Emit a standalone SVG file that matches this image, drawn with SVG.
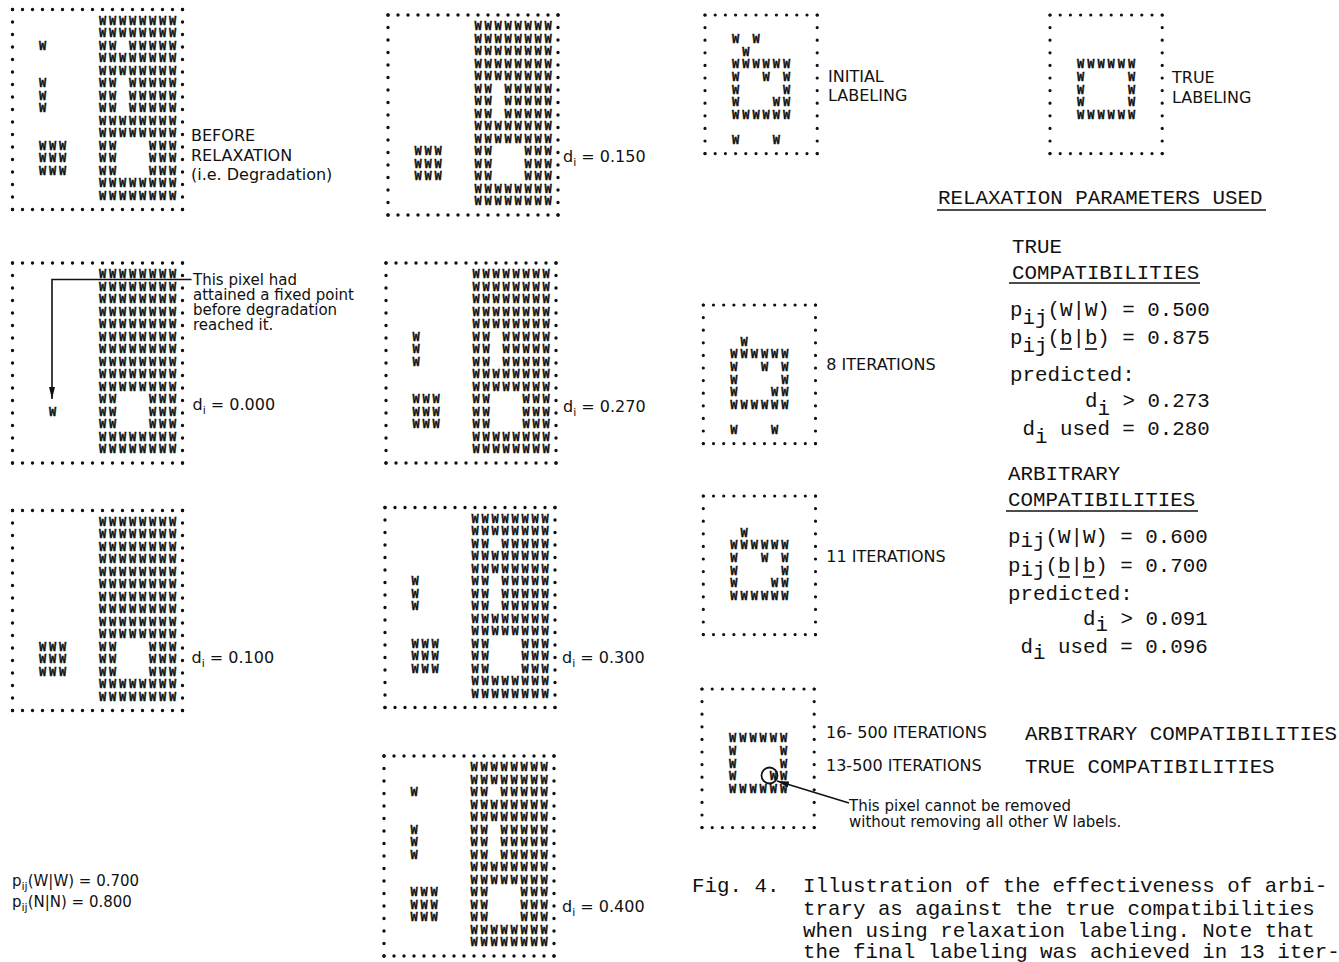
<svg xmlns="http://www.w3.org/2000/svg" width="1339" height="962" viewBox="0 0 1339 962">
<style>
.w{font-family:"DejaVu Sans Mono",monospace;font-weight:bold;font-size:12px;letter-spacing:2.78px;fill:#111;stroke:#111;stroke-width:0.3}
.w2{font-family:"DejaVu Sans Mono",monospace;font-weight:bold;font-size:12px;letter-spacing:2.98px;fill:#111;stroke:#111;stroke-width:0.3}
.dh{fill:none;stroke:#111;stroke-width:3.4;stroke-linecap:round;stroke-dasharray:0 10}
.dv{fill:none;stroke:#111;stroke-width:3.4;stroke-linecap:round;stroke-dasharray:0 12.5}
.dh2{fill:none;stroke:#111;stroke-width:3.2;stroke-linecap:round;stroke-dasharray:0 10.2}
.dv2{fill:none;stroke:#111;stroke-width:3.2;stroke-linecap:round;stroke-dasharray:0 12.6}
.lt{font-family:"DejaVu Sans",sans-serif;font-size:16px;fill:#111}
.ls{font-family:"DejaVu Sans",sans-serif;font-size:15px;fill:#111}
.tw{font-family:"Liberation Mono",monospace;font-size:20.8px;fill:#111}
.ln{stroke:#111;stroke-width:1.6;fill:none}
</style>
<defs>
<marker id="ah" viewBox="0 0 12 6" refX="12" refY="3" markerWidth="12" markerHeight="6" orient="auto" markerUnits="userSpaceOnUse"><path d="M0,0 L12,3 L0,6 z" fill="#111"/></marker>
<g id="frL"><path class="dh" d="M0,0H170.5M0,200H170.5"/><path class="dv" d="M0,0V200.5M170,0V200.5"/></g>
<g id="frR"><path class="dh2" d="M0,0H112.5M0,138.6H112.5"/><path class="dv2" d="M0,0V138.9M112.2,0V138.9"/></g>
<text id="F" class="w" x="86.39" y="2.9">WWWWWWWW</text>
<text id="G1" class="w" y="2.9"><tspan x="86.39">WW</tspan><tspan x="116.39">WWWWW</tspan></text>
<text id="G3" class="w" y="2.9"><tspan x="86.39">WW</tspan><tspan x="136.39">WWW</tspan></text>
<text id="L1" class="w" x="26.39" y="2.9">W</text>
<text id="L3" class="w" x="26.39" y="2.9">WWW</text>
<text id="R6" class="w2" x="27" y="2.9">WWWWWW</text>
<text id="R38" class="w2" y="2.9"><tspan x="27">W</tspan><tspan x="77.99">W</tspan></text>
<text id="R368" class="w2" y="2.9"><tspan x="27">W</tspan><tspan x="57.59">W</tspan><tspan x="77.99">W</tspan></text>
<text id="R378" class="w2" y="2.9"><tspan x="27">W</tspan><tspan x="67.79">WW</tspan></text>
<text id="R4" class="w2" x="37.19" y="2.9">W</text>
<text id="R37" class="w2" y="2.9"><tspan x="27">W</tspan><tspan x="67.79">W</tspan></text>
<text id="R35" class="w2" y="2.9"><tspan x="27">W</tspan><tspan x="47.39">W</tspan></text>
</defs>

<g id="box-before" transform="translate(12.5,9.5)">
<use href="#frL"/>
<use href="#F" y="12.5"/><use href="#F" y="25"/>
<use href="#G1" y="37.5"/><use href="#L1" y="37.5"/>
<use href="#F" y="50"/><use href="#F" y="62.5"/>
<use href="#G1" y="75"/><use href="#L1" y="75"/>
<use href="#G1" y="87.5"/><use href="#L1" y="87.5"/>
<use href="#G1" y="100"/><use href="#L1" y="100"/>
<use href="#F" y="112.5"/><use href="#F" y="125"/>
<use href="#G3" y="137.5"/><use href="#L3" y="137.5"/>
<use href="#G3" y="150"/><use href="#L3" y="150"/>
<use href="#G3" y="162.5"/><use href="#L3" y="162.5"/>
<use href="#F" y="175"/><use href="#F" y="187.5"/>
</g>
<g id="label-before">
<text class="lt" x="191" y="141">BEFORE</text>
<text class="lt" x="191" y="161">RELAXATION</text>
<text class="lt" x="191" y="180">(i.e. Degradation)</text>
</g>

<g id="box-0150" transform="translate(388,15)">
<use href="#frL"/>
<use href="#F" y="12.5"/><use href="#F" y="25"/><use href="#F" y="37.5"/><use href="#F" y="50"/><use href="#F" y="62.5"/>
<use href="#G1" y="75"/><use href="#G1" y="87.5"/><use href="#G1" y="100"/>
<use href="#F" y="112.5"/><use href="#F" y="125"/>
<use href="#G3" y="137.5"/><use href="#L3" y="137.5"/>
<use href="#G3" y="150"/><use href="#L3" y="150"/>
<use href="#G3" y="162.5"/><use href="#L3" y="162.5"/>
<use href="#F" y="175"/><use href="#F" y="187.5"/>
<text class="lt" x="175" y="147">d<tspan font-size="11" dy="4">i</tspan><tspan dy="-4"> = 0.150</tspan></text>
</g>

<g id="box-0000" transform="translate(12.5,263)">
<use href="#frL"/>
<use href="#F" y="12.5"/><use href="#F" y="25"/><use href="#F" y="37.5"/><use href="#F" y="50"/><use href="#F" y="62.5"/>
<use href="#F" y="75"/><use href="#F" y="87.5"/><use href="#F" y="100"/><use href="#F" y="112.5"/><use href="#F" y="125"/>
<use href="#G3" y="137.5"/><use href="#G3" y="150"/><use href="#G3" y="162.5"/>
<text class="w" x="36.39" y="152.9">W</text>
<use href="#F" y="175"/><use href="#F" y="187.5"/>
<text class="lt" x="180" y="147">d<tspan font-size="11" dy="4">i</tspan><tspan dy="-4"> = 0.000</tspan></text>
</g>
<g id="note-fixed">
<text class="ls" x="193" y="285">This pixel had</text>
<text class="ls" x="193" y="300">attained a fixed point</text>
<text class="ls" x="193" y="315">before degradation</text>
<text class="ls" x="193" y="330">reached it.</text>
</g>

<g id="box-0270" transform="translate(386,263)">
<use href="#frL"/>
<use href="#F" y="12.5"/><use href="#F" y="25"/><use href="#F" y="37.5"/><use href="#F" y="50"/><use href="#F" y="62.5"/>
<use href="#G1" y="75"/><use href="#L1" y="75"/>
<use href="#G1" y="87.5"/><use href="#L1" y="87.5"/>
<use href="#G1" y="100"/><use href="#L1" y="100"/>
<use href="#F" y="112.5"/><use href="#F" y="125"/>
<use href="#G3" y="137.5"/><use href="#L3" y="137.5"/>
<use href="#G3" y="150"/><use href="#L3" y="150"/>
<use href="#G3" y="162.5"/><use href="#L3" y="162.5"/>
<use href="#F" y="175"/><use href="#F" y="187.5"/>
<text class="lt" x="177" y="149">d<tspan font-size="11" dy="4">i</tspan><tspan dy="-4"> = 0.270</tspan></text>
</g>

<g id="box-0100" transform="translate(12.5,510.5)">
<use href="#frL"/>
<use href="#F" y="12.5"/><use href="#F" y="25"/><use href="#F" y="37.5"/><use href="#F" y="50"/><use href="#F" y="62.5"/>
<use href="#F" y="75"/><use href="#F" y="87.5"/><use href="#F" y="100"/><use href="#F" y="112.5"/><use href="#F" y="125"/>
<use href="#G3" y="137.5"/><use href="#L3" y="137.5"/>
<use href="#G3" y="150"/><use href="#L3" y="150"/>
<use href="#G3" y="162.5"/><use href="#L3" y="162.5"/>
<use href="#F" y="175"/><use href="#F" y="187.5"/>
<text class="lt" x="179" y="152">d<tspan font-size="11" dy="4">i</tspan><tspan dy="-4"> = 0.100</tspan></text>
</g>

<g id="box-0300" transform="translate(385,507.5)">
<use href="#frL"/>
<use href="#F" y="12.5"/><use href="#F" y="25"/>
<use href="#G1" y="37.5"/>
<use href="#F" y="50"/><use href="#F" y="62.5"/>
<use href="#G1" y="75"/><use href="#L1" y="75"/>
<use href="#G1" y="87.5"/><use href="#L1" y="87.5"/>
<use href="#G1" y="100"/><use href="#L1" y="100"/>
<use href="#F" y="112.5"/><use href="#F" y="125"/>
<use href="#G3" y="137.5"/><use href="#L3" y="137.5"/>
<use href="#G3" y="150"/><use href="#L3" y="150"/>
<use href="#G3" y="162.5"/><use href="#L3" y="162.5"/>
<use href="#F" y="175"/><use href="#F" y="187.5"/>
<text class="lt" x="177" y="155">d<tspan font-size="11" dy="4">i</tspan><tspan dy="-4"> = 0.300</tspan></text>
</g>

<g id="box-0400" transform="translate(384,756)">
<use href="#frL"/>
<use href="#F" y="12.5"/><use href="#F" y="25"/>
<use href="#G1" y="37.5"/><use href="#L1" y="37.5"/>
<use href="#F" y="50"/><use href="#F" y="62.5"/>
<use href="#G1" y="75"/><use href="#L1" y="75"/>
<use href="#G1" y="87.5"/><use href="#L1" y="87.5"/>
<use href="#G1" y="100"/><use href="#L1" y="100"/>
<use href="#F" y="112.5"/><use href="#F" y="125"/>
<use href="#G3" y="137.5"/><use href="#L3" y="137.5"/>
<use href="#G3" y="150"/><use href="#L3" y="150"/>
<use href="#G3" y="162.5"/><use href="#L3" y="162.5"/>
<use href="#F" y="175"/><use href="#F" y="187.5"/>
<text class="lt" x="178" y="156">d<tspan font-size="11" dy="4">i</tspan><tspan dy="-4"> = 0.400</tspan></text>
</g>

<g id="legend-left">
<text class="ls" x="12" y="886">p<tspan font-size="11" dy="4">ij</tspan><tspan dy="-4">(W|W) = 0.700</tspan></text>
<text class="ls" x="12" y="907">p<tspan font-size="11" dy="4">ij</tspan><tspan dy="-4">(N|N) = 0.800</tspan></text>
</g>

<g id="box-initial" transform="translate(705,15)">
<use href="#frR"/>
<use href="#R35" y="25.2"/><use href="#R4" y="37.8"/><use href="#R6" y="50.4"/><use href="#R368" y="63"/>
<use href="#R38" y="75.6"/><use href="#R378" y="88.2"/><use href="#R6" y="100.8"/><use href="#R37" y="126"/>
<text class="lt" x="123" y="67">INITIAL</text>
<text class="lt" x="123" y="86">LABELING</text>
</g>

<g id="box-true" transform="translate(1050,15)">
<use href="#frR"/>
<use href="#R6" y="50.4"/><use href="#R38" y="63"/><use href="#R38" y="75.6"/><use href="#R38" y="88.2"/><use href="#R6" y="100.8"/>
<text class="lt" x="122" y="68">TRUE</text>
<text class="lt" x="122" y="87.5">LABELING</text>
</g>

<g id="params">
<text class="tw" x="938" y="204">RELAXATION PARAMETERS USED</text>
<line class="ln" x1="937" y1="210" x2="1266" y2="210"/>
<text class="tw" x="1012" y="253">TRUE</text>
<text class="tw" x="1012" y="279">COMPATIBILITIES</text>
<line class="ln" x1="1009" y1="283" x2="1200" y2="283"/>
<text class="tw" x="1010" y="316">p<tspan dy="8">ij</tspan><tspan dy="-8">(W|W) = 0.500</tspan></text>
<text class="tw" x="1010" y="344">p<tspan dy="8">ij</tspan><tspan dy="-8">(b|b) = 0.875</tspan></text>
<line class="ln" x1="1060" y1="349" x2="1072" y2="349"/><line class="ln" x1="1085" y1="349" x2="1097" y2="349"/>
<text class="tw" x="1010" y="381">predicted:</text>
<text class="tw" x="1085" y="407">d<tspan dy="8">i</tspan><tspan dy="-8"> &gt; 0.273</tspan></text>
<text class="tw" x="1022.5" y="435">d<tspan dy="8">i</tspan><tspan dy="-8"> used = 0.280</tspan></text>
<text class="tw" x="1008" y="480">ARBITRARY</text>
<text class="tw" x="1008" y="506">COMPATIBILITIES</text>
<line class="ln" x1="1006" y1="511" x2="1198" y2="511"/>
<text class="tw" x="1008" y="543">p<tspan dy="4">ij</tspan><tspan dy="-4">(W|W) = 0.600</tspan></text>
<text class="tw" x="1008" y="572">p<tspan dy="4">ij</tspan><tspan dy="-4">(b|b) = 0.700</tspan></text>
<line class="ln" x1="1058" y1="577" x2="1070" y2="577"/><line class="ln" x1="1083" y1="577" x2="1095" y2="577"/>
<text class="tw" x="1008" y="600">predicted:</text>
<text class="tw" x="1083" y="625">d<tspan dy="6">i</tspan><tspan dy="-6"> &gt; 0.091</tspan></text>
<text class="tw" x="1020.5" y="653">d<tspan dy="6">i</tspan><tspan dy="-6"> used = 0.096</tspan></text>
</g>

<g id="box-8" transform="translate(703.3,305)">
<use href="#frR"/>
<use href="#R4" y="37.8"/><use href="#R6" y="50.4"/><use href="#R368" y="63"/>
<use href="#R38" y="75.6"/><use href="#R378" y="88.2"/><use href="#R6" y="100.8"/><use href="#R37" y="126"/>
<text class="lt" x="123" y="65">8 ITERATIONS</text>
</g>

<g id="box-11" transform="translate(703.3,496)">
<use href="#frR"/>
<use href="#R4" y="37.8"/><use href="#R6" y="50.4"/><use href="#R368" y="63"/>
<use href="#R38" y="75.6"/><use href="#R378" y="88.2"/><use href="#R6" y="100.8"/>
<text class="lt" x="123" y="65.5">11 ITERATIONS</text>
</g>

<g id="box-final" transform="translate(702,689)">
<use href="#frR"/>
<use href="#R6" y="50.4"/><use href="#R38" y="63"/><use href="#R38" y="75.6"/><use href="#R378" y="88.2"/><use href="#R6" y="100.8"/>
<circle cx="67.5" cy="86.5" r="8" fill="none" stroke="#111" stroke-width="1.8"/>
<text class="lt" x="124" y="49">16- 500 ITERATIONS</text>
<text class="lt" x="124" y="82">13-500 ITERATIONS</text>
</g>

<g id="connectors">
<path class="ln" d="M191.5,279.5 H52 V399" marker-end="url(#ah)"/>
<path class="ln" d="M849,803 L777,781" marker-end="url(#ah)"/>
</g>

<g id="final-notes">
<text class="tw" x="1025" y="740">ARBITRARY COMPATIBILITIES</text>
<text class="tw" x="1025" y="773">TRUE COMPATIBILITIES</text>
<text class="ls" x="849" y="811">This pixel cannot be removed</text>
<text class="ls" x="849" y="827">without removing all other W labels.</text>
</g>

<g id="caption">
<text class="tw" x="692" y="892">Fig. 4.</text>
<text class="tw" x="803" y="892">Illustration of the effectiveness of arbi-</text>
<text class="tw" x="803" y="914.5">trary as against the true compatibilities</text>
<text class="tw" x="803" y="937">when using relaxation labeling.  Note that</text>
<text class="tw" x="803" y="958">the final labeling was achieved in 13 iter-</text>
</g>
</svg>
